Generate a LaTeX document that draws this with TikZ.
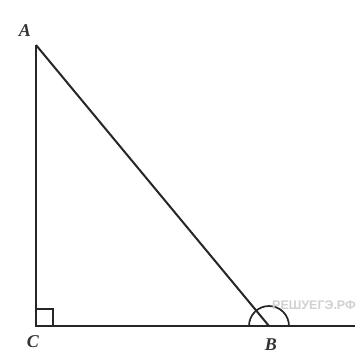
\documentclass[tikz,border=0pt]{standalone}
\usepackage{fontspec}
\setmainfont{Liberation Serif}
\newfontfamily\wmfont{Liberation Sans}
\begin{document}
\begin{tikzpicture}[x=1pt,y=-1pt,
  edge/.style={line width=2pt,black!85},
  lbl/.style={font=\fontsize{18}{20}\selectfont\itshape\bfseries, text=black!80},
  wm/.style={font=\wmfont\fontsize{12.5}{14}\selectfont\bfseries, text=black!18}]
\useasboundingbox[fill=white] (0,0) rectangle (362,354);
\coordinate (A) at (36,45);
\coordinate (C) at (36,326);
\coordinate (B) at (269,326);
\coordinate (E) at (355,326);
\draw[edge] (A) -- (C) -- (E);
\draw[edge] (A) -- (B);
\draw[line width=1.7pt,black!85] (36,309) -- (53,309) -- (53,326);
\draw[line width=1.7pt,black!85] ([xshift=-20pt]B) arc[start angle=180,end angle=360,radius=20];
\node[lbl] (la) at (25,31) {A};
\node[lbl] (lc) at (33,342) {C};
\node[lbl] (lb) at (271,345) {B};
\node[wm] (w) at (314,305) {РЕШУЕГЭ.РФ};
\end{tikzpicture}
\end{document}
